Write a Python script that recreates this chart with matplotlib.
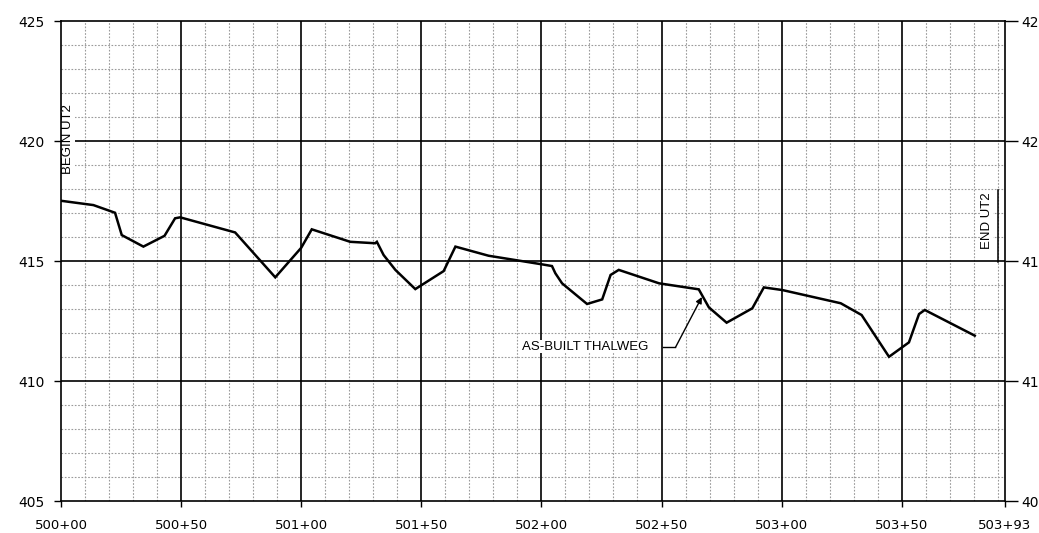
import matplotlib
matplotlib.use("Agg")
import matplotlib.pyplot as plt
import numpy as np

# stationing in feet from 500+00, thalweg elevation
stations = [0, 13.5, 22.5, 25.3, 34.3, 43.1, 47.5, 49.6, 72.5, 89.2, 100.0, 104.4,
            120.4, 130.8, 131.5, 134.3, 139.2, 147.5, 159.3, 164.2, 178.0, 200.3,
            204.4, 205.8, 208.6, 219.0, 225.3, 228.8, 232.2, 249.0, 265.5, 269.7,
            277.1, 287.8, 292.6, 300.3, 324.6, 333.3, 344.7, 353.0, 357.2, 359.6, 380.4]
thalweg = [417.51, 417.33, 417.01, 416.08, 415.60, 416.05, 416.78, 416.82, 416.19,
           414.32, 415.55, 416.32, 415.80, 415.74, 415.80, 415.25, 414.63, 413.83,
           414.58, 415.60, 415.22, 414.86, 414.79, 414.49, 414.07, 413.21, 413.40,
           414.42, 414.63, 414.07, 413.82, 413.07, 412.43, 413.03, 413.90, 413.79,
           413.24, 412.75, 411.01, 411.61, 412.79, 412.96, 411.89]

x_ticks = [0, 50, 100, 150, 200, 250, 300, 350, 393]
x_labels = ["500+00", "500+50", "501+00", "501+50", "502+00",
            "502+50", "503+00", "503+50", "503+93"]
y_ticks = [405, 410, 415, 420, 425]

fig = plt.figure(figsize=(10.39, 5.33), dpi=100)
ax = fig.add_axes([0.0587, 0.0600, 0.9086, 0.9006])
ax.set_xlim(0, 393)
ax.set_ylim(405, 425)

# minor grid (10 ft / 1 ft)
for v in np.arange(10, 393, 10):
    if v % 50:
        ax.axvline(v, color="#9a9a9a", lw=0.8, ls=(0, (1.5, 1.5)), zorder=1)
for v in range(406, 425):
    if v % 5:
        ax.axhline(v, color="#9a9a9a", lw=0.8, ls=(0, (1.5, 1.5)), zorder=1)
# major grid
for v in range(50, 393, 50):
    ax.axvline(v, color="black", lw=1.2, zorder=2)
for v in [410, 415, 420]:
    ax.axhline(v, color="black", lw=1.2, zorder=2)

ax.plot(stations, thalweg, color="black", lw=1.8, solid_joinstyle="miter", zorder=4)

ax.set_xticks(x_ticks)
ax.set_xticklabels(x_labels)
ax.set_yticks(y_ticks)
ax.tick_params(axis="x", direction="out", length=4, width=1, labelsize=9.5, pad=9)
ax.tick_params(axis="y", left=True, right=True, labelright=True, direction="out",
               width=1, labelsize=10)
ax.tick_params(axis="y", which="major", length=5, pad=7)
for t in ax.yaxis.get_major_ticks():
    t.tick2line.set_markersize(9)
for s in ax.spines.values():
    s.set_linewidth(1.2)

# annotations
ax.text(3.0, 420.1, "BEGIN UT2", rotation=90, ha="center", va="center",
        fontsize=9.5, family="Liberation Sans", zorder=5,
        bbox=dict(facecolor="white", edgecolor="none", pad=0.5))
ax.text(385.4, 416.67, "END UT2", rotation=90, ha="center", va="center",
        fontsize=9.5, family="Liberation Sans", zorder=5,
        bbox=dict(facecolor="white", edgecolor="none", pad=0.5))
ax.plot([390, 390], [414.96, 417.96], color="black", lw=1.1, zorder=3)

ax.text(218.3, 411.43, "AS-BUILT THALWEG", ha="center", va="center",
        fontsize=9.5, family="Liberation Sans", zorder=5,
        bbox=dict(facecolor="white", edgecolor="none", pad=0.5))
ax.plot([250.5, 255.8], [411.4, 411.4], color="black", lw=1, zorder=5)
ax.annotate("", xy=(266.8, 413.5), xytext=(255.8, 411.4),
            arrowprops=dict(arrowstyle="-|>", color="black", lw=1,
                            mutation_scale=9, shrinkA=0, shrinkB=0), zorder=5)

fig.savefig("out.png", dpi=100)
